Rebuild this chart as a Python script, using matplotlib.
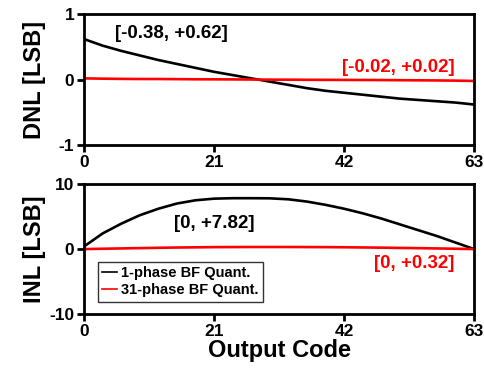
import matplotlib
matplotlib.use("Agg")
import matplotlib.pyplot as plt
import numpy as np

plt.rcParams['font.family'] = ['Liberation Sans', 'DejaVu Sans']
plt.rcParams['font.weight'] = 'bold'
plt.rcParams['axes.unicode_minus'] = False

codes = [0, 3, 6, 9, 12, 15, 18, 21, 24, 27, 30, 33, 36, 39, 42, 45, 48, 51, 54, 57, 60, 63]
dnl_1phase = [0.62, 0.52, 0.44, 0.37, 0.30, 0.24, 0.18, 0.12, 0.07, 0.02, -0.03, -0.08,
              -0.13, -0.17, -0.20, -0.23, -0.26, -0.29, -0.31, -0.33, -0.35, -0.38]
dnl_31phase = [0.02, 0.015, 0.012, 0.01, 0.01, 0.008, 0.006, 0.005, 0.004, 0.002, 0.0, 0.0,
               -0.002, -0.003, -0.004, -0.005, -0.006, -0.008, -0.01, -0.012, -0.015, -0.02]
inl_1phase = [0.4, 2.4, 3.9, 5.2, 6.2, 7.0, 7.5, 7.75, 7.82, 7.82, 7.8, 7.65,
              7.3, 6.8, 6.2, 5.5, 4.7, 3.8, 2.9, 2.0, 1.0, 0.0]
inl_31phase = [0.0, 0.05, 0.1, 0.15, 0.2, 0.24, 0.27, 0.3, 0.31, 0.32, 0.32, 0.32,
               0.31, 0.3, 0.28, 0.25, 0.22, 0.18, 0.14, 0.1, 0.05, 0.0]
xticks = [0, 21, 42, 63]
labels = ["1-phase BF Quant.", "31-phase BF Quant."]

fig = plt.figure(figsize=(4.84, 3.74), dpi=100)
ax1 = fig.add_axes([0.1736, 0.612, 0.806, 0.350])
ax2 = fig.add_axes([0.1736, 0.160, 0.806, 0.348])

for ax in (ax1, ax2):
    for s in ax.spines.values():
        s.set_linewidth(2)
    ax.set_xlim(0, 63)
    ax.set_xticks(xticks)
    ax.tick_params(direction='out', width=2, length=5, labelsize=12.5, pad=2)
    for lab in ax.get_xticklabels() + ax.get_yticklabels():
        lab.set_fontweight('bold')

ax1.plot(codes, dnl_1phase, color='black', lw=1.9, label=labels[0])
ax1.plot(codes, dnl_31phase, color='red', lw=1.9, label=labels[1])
ax1.set_ylim(-1, 1)
ax1.set_yticks([-1, 0, 1])
ax1.set_ylabel('DNL [LSB]', fontsize=17, fontweight='bold', labelpad=9)
ax1.text(14.1, 0.71, '[-0.38, +0.62]', fontsize=13.5, fontweight='bold', color='black',
         ha='center', va='center')
ax1.text(50.8, 0.18, '[-0.02, +0.02]', fontsize=13.5, fontweight='bold', color='red',
         ha='center', va='center')

ax2.plot(codes, inl_1phase, color='black', lw=1.9, label=labels[0])
ax2.plot(codes, inl_31phase, color='red', lw=1.9, label=labels[1])
ax2.set_ylim(-10, 10)
ax2.set_yticks([-10, 0, 10])
ax2.set_ylabel('INL [LSB]', fontsize=17, fontweight='bold', labelpad=2)
ax2.set_xlabel('Output Code', fontsize=17, fontweight='bold', labelpad=0)
ax2.text(21.0, 4.0, '[0, +7.82]', fontsize=13.5, fontweight='bold', color='black',
         ha='center', va='center')
ax2.text(53.3, -2.2, '[0, +0.32]', fontsize=13.5, fontweight='bold', color='red',
         ha='center', va='center')
leg = ax2.legend(loc='upper left', bbox_to_anchor=(0.035, 0.40), fontsize=10.5,
                 frameon=True, fancybox=False, edgecolor='black', handlelength=1.0,
                 handletextpad=0.3, labelspacing=0.2, borderpad=0.3, borderaxespad=0)
leg.get_frame().set_linewidth(1)
for t in leg.get_texts():
    t.set_fontweight('bold')
for l in leg.get_lines():
    l.set_linewidth(1.2)

fig.savefig('out.png', dpi=100)
